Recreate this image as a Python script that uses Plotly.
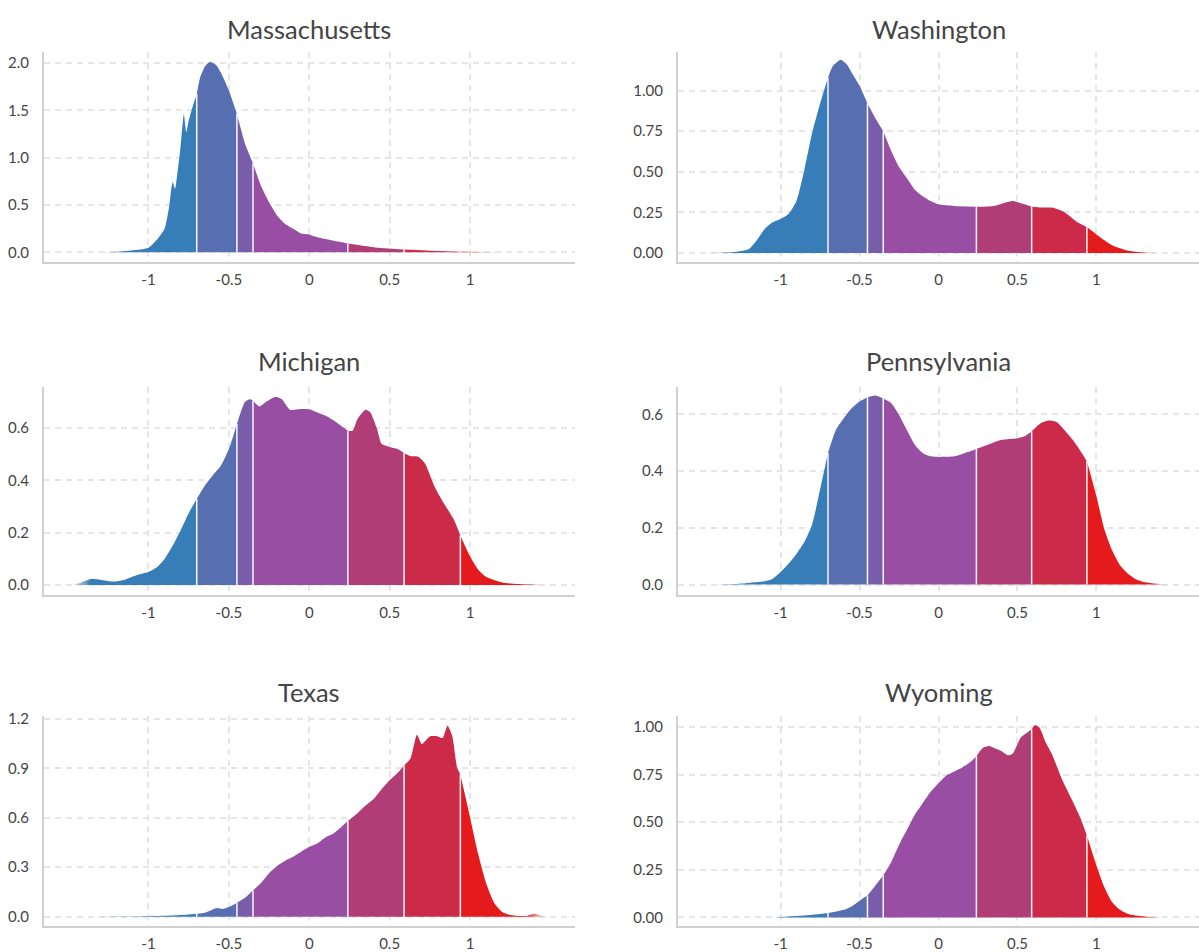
import plotly.graph_objects as go

# ---------------- data ----------------
states = ["Massachusetts", "Washington", "Michigan", "Pennsylvania", "Texas", "Wyoming"]

ma_x = [-1.38,-1.2,-1.0,-0.95,-0.9,-0.87,-0.85,-0.835,-0.82,-0.8,-0.78,-0.765,-0.75,-0.72,-0.7,-0.68,-0.65,-0.62,-0.58,-0.55,-0.5,-0.45,-0.4,-0.35,-0.3,-0.25,-0.2,-0.15,-0.1,-0.05,0,0.03,0.1,0.24,0.4,0.59,0.8,0.94,1.2,1.3]
ma_y = [0,0.007,0.05,0.13,0.25,0.5,0.74,0.67,0.84,1.12,1.46,1.27,1.39,1.57,1.67,1.84,1.96,2.01,1.98,1.90,1.71,1.46,1.15,0.94,0.70,0.53,0.39,0.30,0.25,0.20,0.19,0.17,0.14,0.093,0.055,0.03,0.014,0.007,0.002,0]

wa_x = [-1.48,-1.3,-1.2,-1.15,-1.1,-1.05,-1.0,-0.95,-0.9,-0.85,-0.8,-0.75,-0.7,-0.67,-0.62,-0.58,-0.55,-0.5,-0.45,-0.4,-0.35,-0.3,-0.25,-0.2,-0.15,-0.1,-0.05,0,0.1,0.24,0.35,0.42,0.47,0.53,0.59,0.65,0.72,0.8,0.88,0.94,1.0,1.1,1.2,1.3,1.45]
wa_y = [0,0.006,0.025,0.08,0.15,0.19,0.21,0.24,0.32,0.51,0.74,0.92,1.08,1.15,1.19,1.16,1.11,1.03,0.92,0.83,0.75,0.63,0.53,0.46,0.39,0.35,0.32,0.30,0.29,0.285,0.29,0.31,0.32,0.305,0.285,0.28,0.28,0.25,0.19,0.16,0.115,0.048,0.015,0.004,0]

mi_x = [-1.48,-1.42,-1.35,-1.3,-1.25,-1.2,-1.15,-1.1,-1.05,-1.0,-0.95,-0.9,-0.85,-0.8,-0.75,-0.7,-0.65,-0.6,-0.55,-0.5,-0.45,-0.4,-0.37,-0.35,-0.31,-0.27,-0.21,-0.17,-0.12,-0.05,0,0.05,0.1,0.15,0.2,0.24,0.27,0.3,0.35,0.38,0.42,0.45,0.5,0.55,0.59,0.63,0.68,0.72,0.78,0.83,0.9,0.94,1.0,1.05,1.1,1.2,1.3,1.5]
mi_y = [0,0.01,0.024,0.02,0.015,0.014,0.02,0.032,0.042,0.05,0.067,0.10,0.15,0.21,0.275,0.33,0.38,0.42,0.456,0.52,0.616,0.70,0.71,0.705,0.683,0.70,0.72,0.71,0.67,0.673,0.672,0.66,0.648,0.63,0.608,0.59,0.59,0.635,0.67,0.66,0.60,0.54,0.528,0.52,0.505,0.493,0.49,0.465,0.376,0.32,0.25,0.19,0.11,0.06,0.032,0.01,0.004,0]

pa_x = [-1.49,-1.3,-1.2,-1.1,-1.05,-1.0,-0.95,-0.9,-0.85,-0.8,-0.75,-0.7,-0.65,-0.6,-0.55,-0.5,-0.45,-0.4,-0.35,-0.3,-0.25,-0.2,-0.15,-0.1,-0.05,0,0.1,0.2,0.24,0.3,0.4,0.5,0.55,0.59,0.65,0.7,0.75,0.8,0.85,0.9,0.94,1.0,1.05,1.1,1.15,1.2,1.25,1.3,1.4,1.5]
pa_y = [0,0.002,0.006,0.012,0.021,0.044,0.073,0.108,0.15,0.213,0.336,0.464,0.545,0.586,0.621,0.645,0.66,0.666,0.656,0.64,0.598,0.545,0.493,0.464,0.452,0.45,0.452,0.47,0.478,0.49,0.51,0.516,0.524,0.54,0.569,0.578,0.572,0.543,0.51,0.47,0.435,0.312,0.196,0.12,0.068,0.038,0.019,0.009,0.002,0]

tx_x = [-1.38,-1.2,-1.0,-0.9,-0.8,-0.7,-0.65,-0.6,-0.57,-0.54,-0.5,-0.45,-0.4,-0.35,-0.3,-0.25,-0.2,-0.15,-0.1,-0.05,0,0.05,0.1,0.15,0.2,0.24,0.3,0.35,0.4,0.45,0.5,0.55,0.59,0.63,0.67,0.7,0.75,0.8,0.83,0.86,0.89,0.92,0.94,1.0,1.05,1.1,1.15,1.2,1.25,1.3,1.35,1.4,1.45,1.48]
tx_y = [0,0.001,0.003,0.005,0.01,0.018,0.024,0.044,0.052,0.046,0.058,0.084,0.114,0.16,0.204,0.264,0.308,0.34,0.364,0.394,0.424,0.444,0.48,0.504,0.544,0.58,0.628,0.674,0.714,0.774,0.828,0.874,0.918,0.96,1.104,1.048,1.094,1.094,1.084,1.158,1.094,0.904,0.864,0.604,0.384,0.204,0.084,0.028,0.01,0.004,0.004,0.018,0.004,0]

wy_x = [-1.05,-1.0,-0.9,-0.8,-0.7,-0.6,-0.55,-0.5,-0.45,-0.4,-0.35,-0.3,-0.25,-0.2,-0.15,-0.1,-0.05,0,0.05,0.1,0.15,0.2,0.24,0.28,0.32,0.36,0.4,0.44,0.47,0.52,0.56,0.59,0.61,0.64,0.68,0.72,0.78,0.85,0.9,0.94,1.0,1.05,1.1,1.15,1.2,1.3,1.45]
wy_y = [0,0.002,0.007,0.014,0.023,0.04,0.058,0.088,0.115,0.168,0.22,0.29,0.38,0.46,0.54,0.60,0.66,0.705,0.746,0.767,0.788,0.815,0.847,0.89,0.90,0.887,0.873,0.852,0.86,0.944,0.97,0.988,1.01,0.996,0.917,0.855,0.73,0.61,0.52,0.43,0.273,0.16,0.08,0.04,0.018,0.005,0]

series_x = [ma_x, wa_x, mi_x, pa_x, tx_x, wy_x]
series_y = [ma_y, wa_y, mi_y, pa_y, tx_y, wy_y]

boundaries = [-0.7, -0.45, -0.35, 0.24, 0.59, 0.94]
band_rgb = [(55,126,184), (87,110,177), (120,94,170), (152,78,163),
            (177,61,118), (203,43,73), (228,26,28)]

x_ticks = [-1, -0.5, 0, 0.5, 1]
x_tick_labels = ["-1", "-0.5", "0", "0.5", "1"]

y_ranges = [(-0.1, 2.12), (-0.054, 1.24), (-0.036, 0.758),
            (-0.035, 0.697), (-0.058, 1.218), (-0.046, 1.058)]
y_dticks = [0.5, 0.25, 0.2, 0.2, 0.3, 0.25]
y_formats = [".1f", ".2f", ".1f", ".1f", ".1f", ".2f"]

# ---------------- layout geometry ----------------
W, H = 1199, 952
col_dom = [(44 / W, 574.5 / W), (678 / W, 1.0)]
row_px = [(45, 257), (383, 592.5), (715, 927)]
row_dom = [(1 - b / H, 1 - t / H) for (t, b) in row_px]
title_y_px = [22, 357, 691]
FONT = "'Source Sans Pro', Lato, 'Noto Sans', sans-serif"

fig = go.Figure()
layout = dict(
    width=W, height=H, margin=dict(l=0, r=0, t=0, b=0),
    paper_bgcolor="white", plot_bgcolor="white", showlegend=False,
    font=dict(family=FONT, color="#444"),
    annotations=[],
)

def rgba(c, a):
    return f"rgba({c[0]},{c[1]},{c[2]},{a})"

for k, name in enumerate(states):
    r, c = divmod(k, 2)
    xs, ys = series_x[k], series_y[k]
    assert len(xs) == len(ys)
    ax = "" if k == 0 else str(k + 1)
    xref, yref = "x" + ax, "y" + ax
    edges = [-10] + boundaries + [10]
    for b in range(7):
        lo, hi = edges[b], edges[b + 1]
        bx = [x for x in xs if lo <= x <= hi]
        by = [y for x, y in zip(xs, ys) if lo <= x <= hi]
        if len(bx) < 2:
            continue
        col = band_rgb[b]
        tr = dict(x=bx, y=by, mode="lines", fill="tozeroy",
                  line=dict(width=0, shape="spline", smoothing=0.6, color=rgba(col, 1)),
                  fillcolor=rgba(col, 1), hoverinfo="skip",
                  xaxis=xref, yaxis=yref)
        if b == 0:
            tr["fillgradient"] = dict(type="horizontal", colorscale=[
                [0, rgba(col, 0)], [0.15, rgba(col, 1)], [1, rgba(col, 1)]])
        elif b == 6:
            tr["fillgradient"] = dict(type="horizontal", colorscale=[
                [0, rgba(col, 1)], [0.75, rgba(col, 1)], [1, rgba(col, 0)]])
        fig.add_trace(go.Scatter(**tr))
    # white separators at band boundaries
    sx, sy = [], []
    for bnd in boundaries:
        if bnd in xs:
            yb = ys[xs.index(bnd)]
            sx += [bnd, bnd, None]
            sy += [0, yb, None]
    fig.add_trace(go.Scatter(x=sx, y=sy, mode="lines",
                             line=dict(color="rgba(255,255,255,0.95)", width=1.5),
                             hoverinfo="skip", xaxis=xref, yaxis=yref))

    common = dict(showgrid=True, gridcolor="#e6e6e6", griddash="6px,5px", gridwidth=1.5,
                  showline=True, linecolor="#d0d0d0", linewidth=2, zeroline=False,
                  ticks="outside", tickcolor="rgba(0,0,0,0)",
                  tickfont=dict(size=15, color="#444", family=FONT),
                  fixedrange=True)
    layout["xaxis" + ax] = dict(common, domain=list(col_dom[c]), anchor=yref,
                                range=[-1.65, 1.65], tickmode="array",
                                tickvals=x_ticks, ticktext=x_tick_labels, ticklen=3)
    layout["yaxis" + ax] = dict(common, domain=list(row_dom[r]), anchor=xref,
                                range=list(y_ranges[k]), tick0=0, dtick=y_dticks[k],
                                tickformat=y_formats[k], ticklen=10)
    layout["annotations"].append(dict(
        text=name, xref="paper", yref="paper",
        x=(col_dom[c][0] + col_dom[c][1]) / 2, y=1 - title_y_px[r] / H,
        xanchor="center", yanchor="middle", showarrow=False,
        font=dict(size=25.5, color="#444", family=FONT)))

fig.update_layout(**layout)
fig.write_html("out.html", config={"displayModeBar": False},
               post_script="document.body.style.margin='0';document.body.style.overflow='hidden';")
